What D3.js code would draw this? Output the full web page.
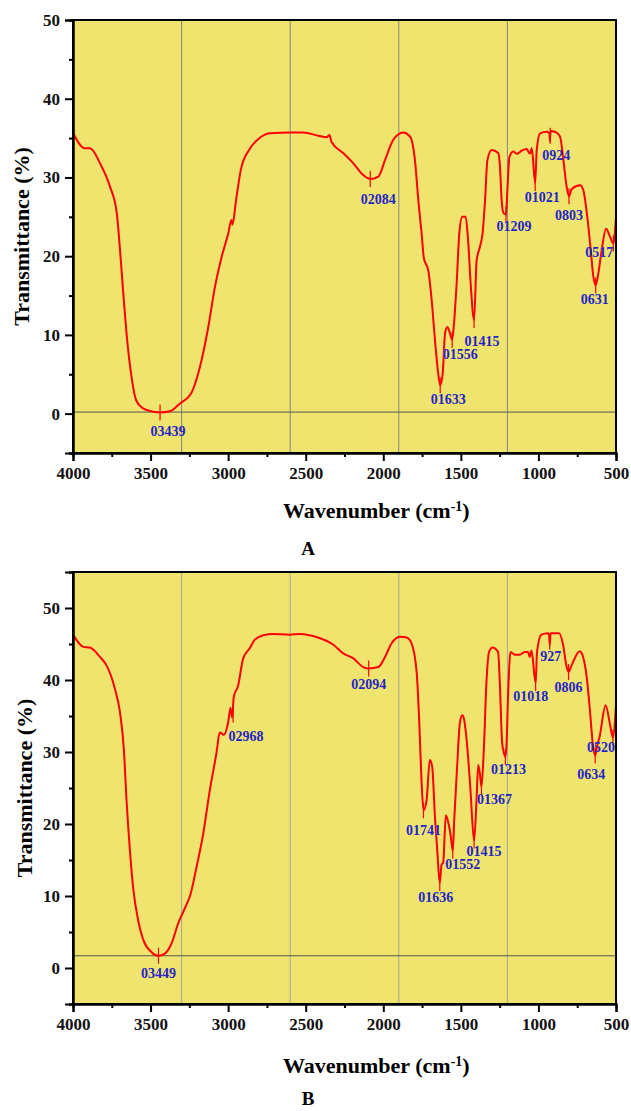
<!DOCTYPE html>
<html>
<head>
<meta charset="utf-8">
<script src="https://cdn.jsdelivr.net/npm/d3@7"></script>
<style>
  body { margin: 0; background: #fff; }
  svg text { font-family: "Liberation Serif", "Times New Roman", serif; font-weight: bold; }
</style>
</head>
<body>
<svg width="631" height="1111"></svg>
<script>
// ---- data: panel A ----
var waveA = [4000,3923,3890,3826,3761,3718,3697,3676,3655,3626,3593,3551,3482,3439,3375,3310,3238,3181,3128,3085,3042,2999,2979,2972,2949,2918,2865,2810,2730,2600,2516,2420,2365,2348,2333,2258,2193,2140,2084,2032,1989,1935,1871,1828,1796,1774,1753,1738,1710,1688,1667,1646,1633,1617,1602,1587,1570,1556,1544,1527,1510,1491,1469,1452,1437,1415,1398,1377,1360,1344,1329,1301,1259,1248,1237,1226,1209,1200,1187,1162,1140,1108,1076,1054,1043,1021,1011,989,946,929,926,922,893,861,839,818,803,786,732,711,685,663,646,631,614,592,564,539,517,500];
var transA = [35.7,33.7,33.7,31.8,28.8,25.5,20.8,15.3,10.2,5.1,1.7,0.7,0.25,0.15,0.3,1.3,2.6,6.0,11.0,16.1,19.9,22.9,24.6,24.0,27.1,31.0,33.5,34.8,35.6,35.7,35.7,35.3,35.1,35.4,34.5,33.1,31.8,30.5,29.8,30.1,32.2,34.8,35.7,35.2,32.2,27.1,22.9,19.7,18.2,14.4,9.4,5.1,3.6,5.1,10.2,11.0,10.2,9.4,11.5,16.6,22.9,25.0,25.0,21.6,16.6,11.9,19.5,21.2,22.9,27.1,32.2,33.5,33.1,31.4,27.1,25.5,25.3,28.4,32.6,33.3,33.0,33.4,33.6,33.0,33.7,29.3,33.5,35.6,35.8,35.6,34.6,35.9,35.8,35.2,32.2,28.8,27.6,28.5,29.0,28.4,25.0,20.8,17.4,16.3,17.8,20.8,23.5,22.5,21.6,25.0];
var peakWaveA  = [3439,2084,1633,1556,1415,1209,1021,924,803,631,517];
var peakTransA = [0.15,29.8,3.6,9.4,11.9,25.3,29.3,35.3,27.6,16.3,21.6];
var peakTextA  = ["03439","02084","01633","01556","01415","01209","01021","0924","0803","0631","0517"];
var baseLineA  = 0.2;

// ---- data: panel B ----
var waveB = [4000,3933,3891,3826,3783,3730,3697,3672,3655,3633,3612,3579,3547,3494,3449,3408,3365,3322,3279,3243,3204,3161,3118,3075,3054,3028,3000,2985,2974,2964,2936,2903,2861,2828,2775,2710,2603,2539,2421,2322,2258,2193,2129,2094,2032,1989,1946,1893,1850,1818,1785,1768,1753,1741,1721,1700,1685,1667,1652,1636,1624,1614,1597,1577,1567,1552,1543,1524,1506,1491,1479,1457,1438,1415,1399,1388,1378,1367,1352,1335,1318,1296,1260,1249,1234,1223,1213,1206,1195,1180,1152,1120,1088,1067,1056,1045,1018,1009,981,938,933,927,921,867,841,820,806,787,734,712,687,665,648,634,622,605,567,541,520,500];
var transB = [46.3,44.6,44.5,43.2,42.0,38.8,35.5,30.3,23.3,16.3,11.1,6.5,3.9,2.2,1.7,2.0,3.4,6.2,8.3,10.2,14.0,18.6,24.7,29.9,32.7,32.4,34.1,36.1,34.8,37.6,39.2,43.0,44.4,45.6,46.2,46.4,46.3,46.4,45.9,44.9,43.7,43.0,41.8,41.6,41.8,43.2,45.1,46.0,45.9,45.1,41.1,34.1,25.7,21.9,23.3,28.9,28.0,21.0,16.3,11.8,14.4,14.6,21.2,19.8,18.6,16.3,20.5,28.0,34.1,35.1,34.5,30.3,24.7,17.7,23.3,28.2,27.1,25.2,30.3,39.7,43.9,44.5,43.9,39.7,31.3,29.9,29.3,30.8,38.3,43.9,43.5,43.5,43.9,43.9,43.2,44.1,39.6,43.9,46.3,46.5,46.5,44.9,46.5,46.5,44.9,42.0,41.1,42.0,44.0,43.2,40.1,35.0,30.8,29.5,30.8,32.2,36.5,34.1,32.0,36.6];
var peakWaveB  = [3449,2968,2094,1741,1636,1552,1415,1367,1213,1018,927,806,634,520];
var peakTransB = [1.7,35.2,41.6,21.9,11.8,16.3,17.7,25.2,29.3,39.6,45.3,41.1,29.5,32.0];
var peakTextB  = ["03449","02968","02094","01741","01636","01552","01415","01367","01213","01018","927","0806","0634","0520"];
var baseLineB  = 1.7;

var xTicks = [4000,3500,3000,2500,2000,1500,1000,500];
var xMinor = [3750,3250,2750,2250,1750,1250,750];
var gridWaves = [3300,2600,1900,1200];

// label offsets (px) from each peak point
var offA = [[8,19],[8,20],[8,14],[8,14],[8,21],[8,12],[7,14],[6,19],[0,19],[-1,14],[-14,9]];
var offB = [[0,17],[13,22],[0,16],[0,20],[-4,14],[10,13],[10,11],[13,13],[3,12],[-5,13],[1,14],[0,15],[-4,18],[-12,9]];

var svg = d3.select("svg");
var left = 73, right = 616;

function drawPanel(p) {
  var x = d3.scaleLinear().domain([4000, 500]).range([left, right]);
  var y = d3.scaleLinear().domain([-5, p.yMax]).range([p.bottom, p.top]);
  var g = svg.append("g");

  g.append("rect")
    .attr("x", left).attr("y", p.top)
    .attr("width", right - left).attr("height", p.bottom - p.top)
    .attr("fill", "#efe56e");

  g.selectAll(".vgrid").data(gridWaves).enter().append("line")
    .attr("x1", function(d) { return x(d); }).attr("x2", function(d) { return x(d); })
    .attr("y1", p.top).attr("y2", p.bottom)
    .attr("stroke", p.gridColor).attr("stroke-width", 1);

  g.append("line")
    .attr("x1", left).attr("x2", right)
    .attr("y1", y(p.base)).attr("y2", y(p.base))
    .attr("stroke", "#555").attr("stroke-width", 1);

  var line = d3.line()
    .curve(d3.curveMonotoneX)
    .x(function(d) { return x(d[0]); })
    .y(function(d) { return y(d[1]); });

  g.append("path")
    .datum(d3.zip(p.wave, p.trans))
    .attr("d", line)
    .attr("fill", "none")
    .attr("stroke", "#ff0000")
    .attr("stroke-width", 2)
    .attr("stroke-linejoin", "round");

  // peak markers
  g.selectAll(".mark").data(d3.zip(p.peakWave, p.peakTrans)).enter().append("line")
    .attr("x1", function(d) { return x(d[0]); }).attr("x2", function(d) { return x(d[0]); })
    .attr("y1", function(d) { return y(d[1]) - 8; }).attr("y2", function(d) { return y(d[1]) + 8; })
    .attr("stroke", "#ff0000").attr("stroke-width", 1.2);

  g.selectAll(".plabel").data(p.peakText).enter().append("text")
    .attr("x", function(d, i) { return x(p.peakWave[i]) + p.off[i][0]; })
    .attr("y", function(d, i) { return y(p.peakTrans[i]) + p.off[i][1]; })
    .attr("dy", "0.35em")
    .attr("text-anchor", "middle")
    .attr("fill", "#2424c8")
    .style("font-size", "14px")
    .text(function(d) { return d; });

  // frame
  g.append("rect")
    .attr("x", left).attr("y", p.top)
    .attr("width", right - left).attr("height", p.bottom - p.top)
    .attr("fill", "none").attr("stroke", "#000").attr("stroke-width", 2);

  // axes
  var xAxis = d3.axisBottom(x).tickValues(xTicks).tickSize(8).tickPadding(6).tickFormat(d3.format("d"));
  var xAxisMinor = d3.axisBottom(x).tickValues(xMinor).tickSize(4).tickFormat("");
  var yAxis = d3.axisLeft(y).tickValues(d3.range(0, p.yMax + 1, 10)).tickSize(8).tickPadding(5);
  var yAxisMinor = d3.axisLeft(y).tickValues(d3.range(-5, p.yMax + 1, 10)).tickSize(4).tickFormat("");

  [xAxis, xAxisMinor].forEach(function(a) {
    g.append("g").attr("transform", "translate(0," + p.bottom + ")").call(a)
      .call(function(s) { s.select(".domain").attr("stroke-width", 2); s.selectAll(".tick line").attr("stroke-width", 2); });
  });
  [yAxis, yAxisMinor].forEach(function(a) {
    g.append("g").attr("transform", "translate(" + left + ",0)").call(a)
      .call(function(s) { s.select(".domain").attr("stroke-width", 2); s.selectAll(".tick line").attr("stroke-width", 2); });
  });
  g.selectAll(".tick text")
    .style("font-size", "17px")
    .style("font-family", "'Liberation Serif', serif")
    .style("font-weight", "bold")
    .attr("fill", "#111");

  // titles
  var xt = g.append("text")
    .attr("x", 283).attr("y", p.xTitleY).attr("dy", "0.35em")
    .style("font-size", "22px");
  xt.append("tspan").text("Wavenumber (cm");
  xt.append("tspan").text("-1").attr("dy", "-0.45em").style("font-size", "14px");
  xt.append("tspan").text(")").attr("dy", "0.3em");

  g.append("text")
    .attr("transform", "translate(" + p.yTitleX + "," + ((p.top + p.bottom) / 2) + ") rotate(-90)")
    .attr("text-anchor", "middle").attr("dy", "0.35em")
    .style("font-size", "22px")
    .text("Transmittance (%)");

  g.append("text")
    .attr("x", 308).attr("y", p.letterY).attr("dy", "0.35em")
    .attr("text-anchor", "middle")
    .style("font-size", "19px")
    .text(p.letter);
}

drawPanel({ wave: waveA, trans: transA, peakWave: peakWaveA, peakTrans: peakTransA, peakText: peakTextA,
  off: offA, base: baseLineA, top: 20, bottom: 453, yMax: 50, gridColor: "#858585",
  xTitleY: 510, yTitleX: 21, letterY: 548, letter: "A" });

drawPanel({ wave: waveB, trans: transB, peakWave: peakWaveB, peakTrans: peakTransB, peakText: peakTextB,
  off: offB, base: baseLineB, top: 572, bottom: 1004, yMax: 55, gridColor: "#a5a5a0",
  xTitleY: 1065, yTitleX: 24, letterY: 1098, letter: "B" });
</script>
</body>
</html>
